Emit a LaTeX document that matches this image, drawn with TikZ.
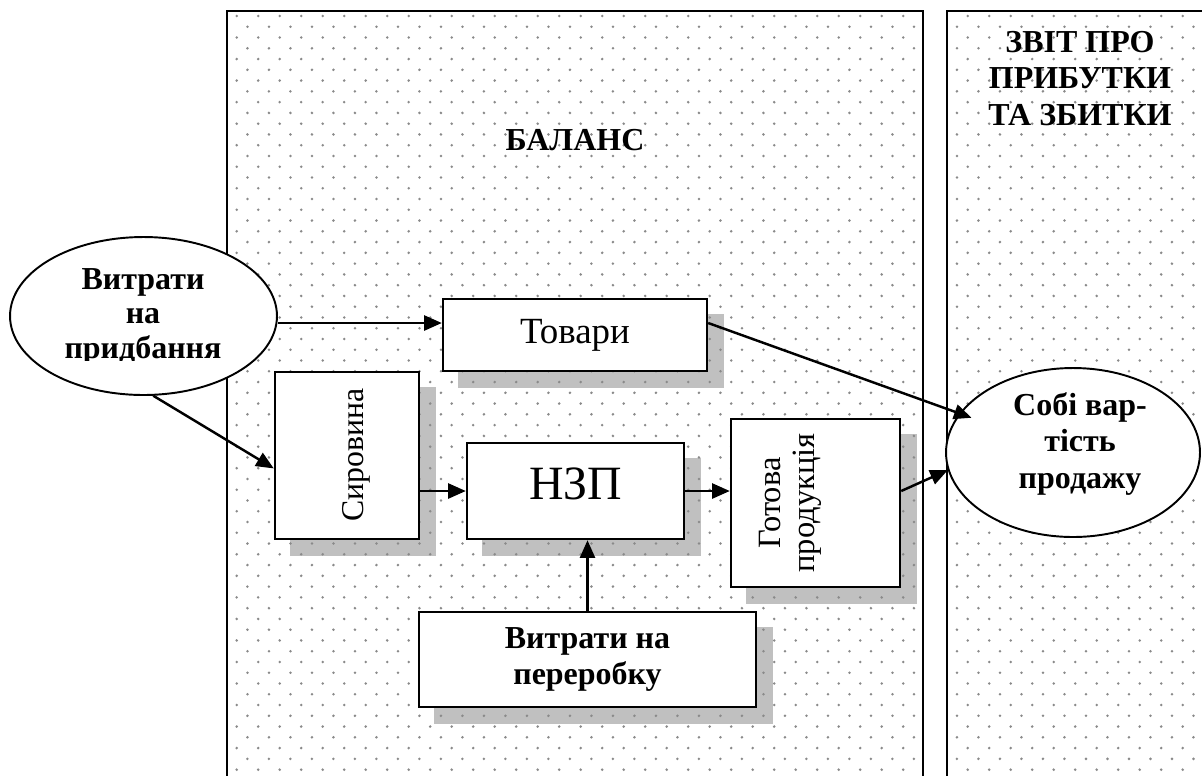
\documentclass[tikz,border=0pt]{standalone}
\usepackage{fontspec}
\setmainfont{Liberation Serif}
\usetikzlibrary{shapes.geometric,arrows.meta,backgrounds,calc}
\definecolor{shadowgray}{HTML}{C0C0C0}
\definecolor{dotgray}{HTML}{8A8A8A}
\begin{document}
\begin{tikzpicture}[x=0.02cm,y=-0.02cm,
  box/.style={draw, line width=1.4pt, fill=white, rectangle, inner sep=0pt},
  oval/.style={draw, ellipse, line width=1.1pt, fill=white, inner sep=0pt},
  arr/.style={line width=1.4pt, -{Triangle[length=10pt,width=8.5pt]}},
  bolda/.style={font=\fontsize{18.2}{19.6}\selectfont\bfseries, align=center, inner sep=0pt},
  boldb/.style={font=\fontsize{18.2}{20.8}\selectfont\bfseries, align=center, inner sep=0pt},
  plain/.style={inner sep=0pt, align=center},
  panel/.style={line width=1.6pt}
]
\useasboundingbox (0,0) rectangle (1202,775);

% boxes of the balance sheet
\node[box, minimum width=5.28cm, minimum height=1.44cm,
      font=\fontsize{21}{25}\selectfont] (tov) at (575,335) {Товари};
\node[box, minimum width=2.88cm, minimum height=3.34cm] (sir) at (347,455.5) {};
\node[box, minimum width=4.34cm, minimum height=1.92cm] (nzp) at (575.5,491) {};
\node[box, minimum width=3.38cm, minimum height=3.36cm] (got) at (815.5,503) {};
\node[box, boldb, minimum width=6.74cm, minimum height=1.9cm] (per) at (587.5,659.5)
      {Витрати на\\переробку};

% box labels
\node[plain, rotate=90, anchor=base, font=\fontsize{18.1}{21}\selectfont] (sirt)
      at (363.3,455) {Сировина};
\node[plain, anchor=base, font=\fontsize{27.2}{30}\selectfont] (nzpt)
      at (575.5,499.3) {НЗП};
\node[plain, rotate=90, font=\fontsize{18.5}{19.5}\selectfont] (gott)
      at (790.5,503) {Готова\\продукція};

% ovals
\node[oval, minimum width=5.34cm, minimum height=3.16cm] (lelip) at (143.5,316) {};
\node[oval, minimum width=5.08cm, minimum height=3.38cm] (sob) at (1073,452.5) {};

\begin{scope}
  \clip (0,0) rectangle (300,360);
  \node[bolda, anchor=north] (lelipt) at (143,268) {Витрати\\на\\придбання};
\end{scope}
\node[boldb, anchor=north] (sobt) at (1080,392) {Собі вар-\\тість\\продажу};

% section titles
\node[boldb, anchor=base] (bal) at (575,150) {БАЛАНС};
\node[boldb, anchor=north] (zvit) at (1080,30.7) {ЗВІТ ПРО\\ПРИБУТКИ\\ТА ЗБИТКИ};

% flows
\coordinate (tovin) at ([yshift=0.24cm]tov.west);
\coordinate (tovout) at ([yshift=0.24cm]tov.east);
\coordinate (gotout) at ([yshift=0.24cm]got.east);
\draw[arr] (lelip.east |- tovin) -- (tovin);
\draw[arr] (lelip.-83) -- (sir.190);
\draw[arr, shorten >=-0.26cm] (tovout) -- (sob.161);
\draw[arr] (sir.east |- nzp.west) -- (nzp.west);
\draw[arr] (nzp.east) -- (nzp.east -| got.west);
\draw[arr] (per.north) -- (per.north |- nzp.south);
\draw[arr] (gotout) -- (sob.188);

\begin{pgfonlayer}{background}
  % drop shadows
  \foreach \b in {tov,sir,nzp,got,per}{
    \fill[shadowgray] ([shift={(16,16)}]\b.north west) rectangle ([shift={(16,16)}]\b.south east);
  }
  % dotted fill of the two sections
  \begin{scope}
    \clip (227,11) rectangle (923,775) (947,11) rectangle (1202,775);
    \foreach \j in {0,...,71}{
      \pgfmathsetmacro{\yy}{16+10.766*\j}
      \pgfmathsetmacro{\xo}{236.7+10.75*mod(\j,2)}
      \foreach \i in {0,...,44}{
        \fill[dotgray] (\xo+21.5*\i,\yy) circle (0.8pt);
      }
    }
  \end{scope}
  % section frames
  \draw[panel] (227,790) -- (227,11) -- (923,11) -- (923,790);
  \draw[panel] (947,790) -- (947,11) -- (1215,11);
\end{pgfonlayer}
\end{tikzpicture}
\end{document}
